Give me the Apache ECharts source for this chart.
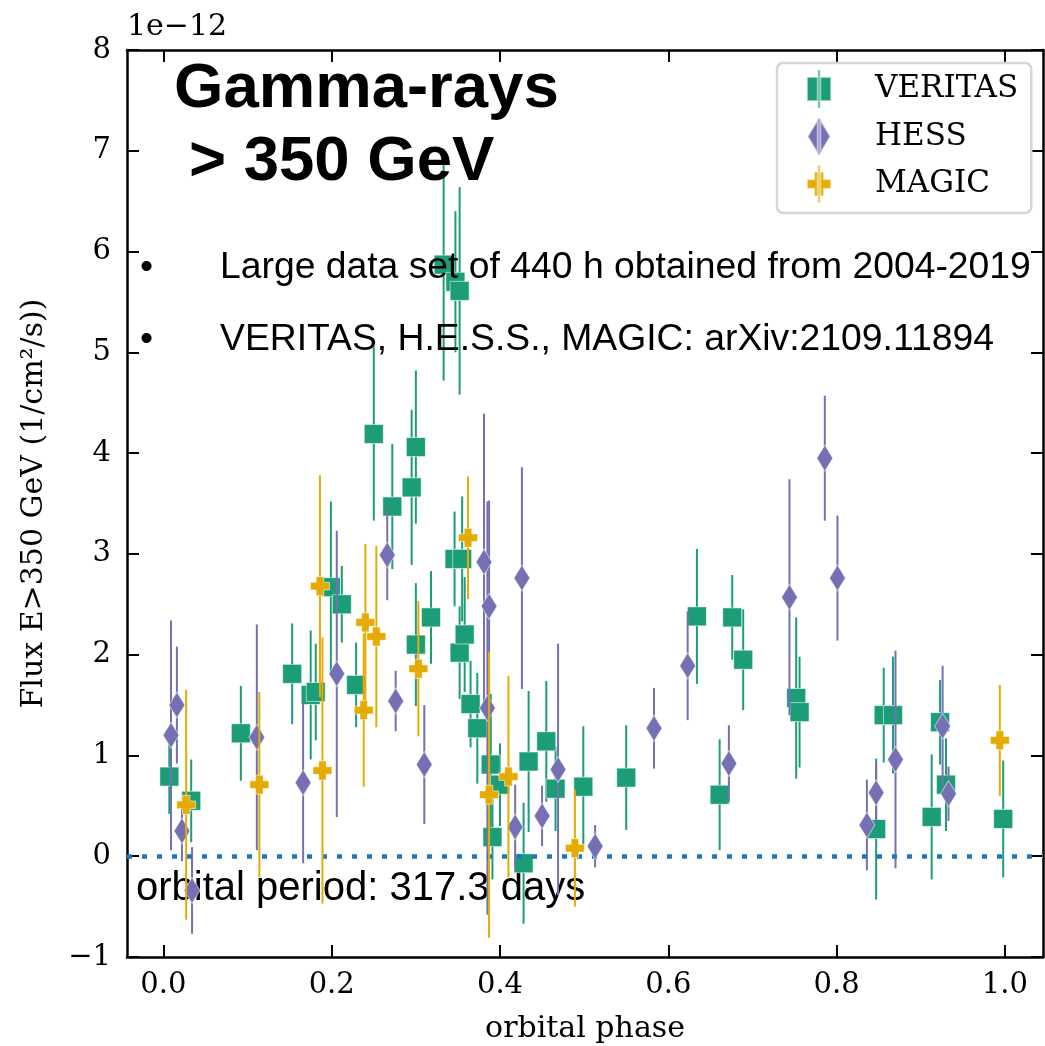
<!DOCTYPE html>
<html>
<head>
<meta charset="utf-8">
<script src="https://cdn.jsdelivr.net/npm/echarts@6/dist/echarts.min.js"></script>
<style>
  html, body { margin: 0; padding: 0; background: #fff; overflow: hidden; }
  #chart { display: block; width: 1045px; height: 1046px; }
</style>
</head>
<body>
<div id="chart"></div>
<script>
// Flux above 350 GeV versus orbital phase, in units of 1e-12 1/cm^2/s.
// Each instrument: phase, flux and symmetric 1-sigma error.
const veritasPhase = [0.007, 0.033, 0.092, 0.153, 0.175, 0.181, 0.199, 0.212, 0.229, 0.250,
  0.272, 0.295, 0.300, 0.300, 0.318, 0.333, 0.346, 0.347, 0.352, 0.352,
  0.355, 0.358, 0.365, 0.373, 0.389, 0.391, 0.400, 0.428, 0.434, 0.455,
  0.466, 0.499, 0.550, 0.634, 0.661, 0.676, 0.689, 0.752, 0.756, 0.847,
  0.856, 0.867, 0.913, 0.923, 0.930, 0.998];
const veritasFlux = [0.79, 0.55, 1.22, 1.81, 1.60, 1.63, 2.67, 2.50, 1.70, 4.19,
  3.47, 3.66, 4.06, 2.10, 2.37, 5.87, 2.95, 5.70, 5.61, 2.02,
  2.95, 2.20, 1.51, 1.27, 0.91, 0.19, 0.71, -0.07, 0.94, 1.14,
  0.67, 0.69, 0.78, 2.38, 0.61, 2.37, 1.95, 1.57, 1.43, 0.27,
  1.40, 1.40, 0.39, 1.33, 0.71, 0.37];
const veritasErr = [0.37, 0.41, 0.47, 0.50, 0.64, 0.48, 0.85, 0.38, 0.42, 0.86,
  0.62, 0.77, 0.76, 0.61, 0.46, 1.15, 0.47, 0.70, 1.03, 0.46,
  0.62, 0.57, 0.43, 0.55, 0.70, 0.42, 0.41, 0.60, 0.70, 0.60,
  0.42, 0.60, 0.52, 0.67, 0.55, 0.42, 0.50, 0.80, 0.55, 0.70,
  0.47, 0.58, 0.62, 0.42, 0.46, 0.58];

const hessPhase = [0.009, 0.016, 0.022, 0.034, 0.111, 0.166, 0.206, 0.266, 0.276, 0.310,
  0.381, 0.387, 0.385, 0.418, 0.426, 0.450, 0.469, 0.513, 0.583, 0.623,
  0.672, 0.744, 0.786, 0.801, 0.836, 0.847, 0.870, 0.926, 0.933];
const hessFlux = [1.20, 1.50, 0.25, -0.34, 1.18, 0.73, 1.81, 2.99, 1.54, 0.91,
  2.92, 2.48, 1.47, 0.29, 2.76, 0.40, 0.86, 0.10, 1.27, 1.89,
  0.92, 2.57, 3.95, 2.76, 0.31, 0.63, 0.96, 1.29, 0.62];
const hessErr = [1.14, 0.58, 0.30, 0.43, 1.12, 0.80, 1.42, 0.45, 0.30, 0.59,
  1.47, 1.05, 2.05, 0.42, 1.10, 0.30, 1.25, 0.21, 0.40, 0.54,
  0.38, 1.17, 0.62, 0.62, 0.45, 0.30, 1.08, 0.60, 0.27];

const magicPhase = [0.027, 0.114, 0.186, 0.189, 0.238, 0.240, 0.253, 0.303, 0.362, 0.387, 0.410, 0.489, 0.994];
const magicFlux = [0.51, 0.71, 2.68, 0.85, 1.45, 2.32, 2.18, 1.86, 3.16, 0.61, 0.79, 0.08, 1.15];
const magicErr = [1.14, 0.92, 1.10, 1.32, 0.76, 0.78, 0.90, 0.67, 0.61, 1.42, 1.00, 0.58, 0.55];

const phaseTicks = [0.0, 0.2, 0.4, 0.6, 0.8, 1.0];
const fluxTicks = [-1, 0, 1, 2, 3, 4, 5, 6, 7, 8];

const COLORS = { VERITAS: '#1b9e77', HESS: '#7570b3', MAGIC: '#e6ab02' };
const SERIF = 'DejaVu Serif';
const SANS = 'Liberation Sans';

// marker shapes
const plusPath = 'path://M-1,-2.5 L1,-2.5 L1,-1 L2.5,-1 L2.5,1 L1,1 L1,2.5 L-1,2.5 L-1,1 L-2.5,1 L-2.5,-1 L-1,-1 Z';
// legend icons: marker with a vertical error stroke
const legendSquare = 'path://M14,0 L16,0 L16,30 L14,30 Z M5.5,5.5 L24.5,5.5 L24.5,24.5 L5.5,24.5 Z';
const legendDiamond = 'path://M14,1 L16,1 L16,29 L14,29 Z M15,0 L24,15 L15,30 L6,15 Z';
const legendPlus = 'path://M14,0 L16,0 L16,30 L14,30 Z M11.2,5.5 L18.8,5.5 L18.8,11.2 L24.5,11.2 L24.5,18.8 L18.8,18.8 L18.8,24.5 L11.2,24.5 L11.2,18.8 L5.5,18.8 L5.5,11.2 L11.2,11.2 Z';

function zip3(a, b, c) { return a.map((v, i) => [v, b[i], c[i]]); }

function errorSeries(name, phase, flux, err, z) {
  return {
    type: 'custom',
    name: name + ' err',
    xAxisIndex: 0, yAxisIndex: 0,
    z: z, silent: true,
    dimensions: ['phase', 'flux', 'err'],
    encode: { x: 0, y: 1 },
    data: zip3(phase, flux, err),
    renderItem: function (params, api) {
      const x = api.value(0), y = api.value(1), e = api.value(2);
      const lo = api.coord([x, y - e]);
      const hi = api.coord([x, y + e]);
      return {
        type: 'line',
        shape: { x1: lo[0], y1: lo[1], x2: hi[0], y2: hi[1] },
        style: { stroke: COLORS[name], lineWidth: 2 }
      };
    }
  };
}

function markerSeries(name, phase, flux, symbol, size, z) {
  return {
    type: 'scatter',
    name: name,
    xAxisIndex: 0, yAxisIndex: 0,
    z: z, silent: true,
    symbol: symbol,
    symbolSize: size,
    itemStyle: { color: COLORS[name], opacity: 1, borderColor: 'rgba(255,255,255,0.55)', borderWidth: 1 },
    data: phase.map((p, i) => [p, flux[i]])
  };
}

const fmtMinus = v => (v < 0 ? '\u2212' + Math.abs(v) : String(v));

const chart = echarts.init(document.getElementById('chart'), null, { renderer: 'canvas', width: 1045, height: 1046 });

const option = {
  animation: false,
  backgroundColor: '#ffffff',
  grid: { left: 127, top: 50, width: 916, height: 907, containLabel: false, outerBoundsMode: 'none' },
  xAxis: [
    {
      type: 'value', position: 'bottom',
      min: -0.0433, max: 1.0453,
      name: 'orbital phase', nameLocation: 'middle', nameGap: 57,
      nameTextStyle: { fontFamily: SERIF, fontSize: 30, color: '#000' },
      axisLine: { show: true, onZero: false, lineStyle: { color: '#000', width: 2.5 } },
      axisTick: { show: true, inside: true, length: 12, customValues: phaseTicks, lineStyle: { color: '#000', width: 2 } },
      axisLabel: { show: true, customValues: phaseTicks, margin: 14, formatter: v => v.toFixed(1),
        fontFamily: SERIF, fontSize: 29, color: '#000' },
      splitLine: { show: false }
    },
    {
      type: 'value', position: 'top',
      min: -0.0433, max: 1.0453,
      axisLine: { show: true, onZero: false, lineStyle: { color: '#000', width: 2.5 } },
      axisTick: { show: true, inside: true, length: 12, customValues: phaseTicks, lineStyle: { color: '#000', width: 2 } },
      axisLabel: { show: false },
      splitLine: { show: false }
    }
  ],
  yAxis: [
    {
      type: 'value', position: 'left',
      min: -1, max: 8, interval: 1,
      name: 'Flux E>350 GeV (1/cm\u00b2/s))', nameLocation: 'middle', nameGap: 78, nameRotate: 90,
      nameTextStyle: { fontFamily: SERIF, fontSize: 30, color: '#000' },
      axisLine: { show: true, onZero: false, lineStyle: { color: '#000', width: 2.5 } },
      axisTick: { show: true, inside: true, length: 12, lineStyle: { color: '#000', width: 2 } },
      axisLabel: { show: true, margin: 16, formatter: fmtMinus, fontFamily: SERIF, fontSize: 29, color: '#000' },
      splitLine: { show: false }
    },
    {
      type: 'value', position: 'right',
      min: -1, max: 8, interval: 1,
      axisLine: { show: true, onZero: false, lineStyle: { color: '#000', width: 2.5 } },
      axisTick: { show: true, inside: true, length: 12, lineStyle: { color: '#000', width: 2 } },
      axisLabel: { show: false },
      splitLine: { show: false }
    }
  ],
  legend: {
    orient: 'vertical',
    left: 777, top: 63,
    padding: [6, 13, 9, 29],
    itemWidth: 38, itemHeight: 38, itemGap: 7.5,
    backgroundColor: 'rgba(255,255,255,0.85)',
    borderColor: '#d6d6d6', borderWidth: 2.5, borderRadius: 6,
    selectedMode: false,
    textStyle: { fontFamily: SERIF, fontSize: 31, color: '#000', padding: [0, 0, 0, 32] },
    data: [
      { name: 'VERITAS', icon: legendSquare },
      { name: 'HESS', icon: legendDiamond },
      { name: 'MAGIC', icon: legendPlus }
    ]
  },
  graphic: [
    { type: 'text', left: 127, top: 12, z: 50,
      style: { text: '1e\u221212', font: '30px "' + SERIF + '"', fill: '#000' } },
    { type: 'text', left: 174, top: 57, z: 50,
      style: { text: 'Gamma-rays', font: 'bold 63.5px "' + SANS + '"', fill: '#000' } },
    { type: 'text', left: 189, top: 130, z: 50,
      style: { text: '> 350 GeV', font: 'bold 63.5px "' + SANS + '"', fill: '#000' } },
    { type: 'text', left: 140, top: 249, z: 50,
      style: { text: '\u2022', font: '37.3px "' + SANS + '"', fill: '#000' } },
    { type: 'text', left: 220, top: 249, z: 50,
      style: { text: 'Large data set of 440 h obtained from 2004-2019', font: '37.3px "' + SANS + '"', fill: '#000' } },
    { type: 'text', left: 140, top: 321, z: 50,
      style: { text: '\u2022', font: '37.3px "' + SANS + '"', fill: '#000' } },
    { type: 'text', left: 220, top: 321, z: 50,
      style: { text: 'VERITAS, H.E.S.S., MAGIC: arXiv:2109.11894', font: '37.3px "' + SANS + '"', fill: '#000' } },
    { type: 'text', left: 136, top: 869, z: 1,
      style: { text: 'orbital period: 317.3 days', font: '40px "' + SANS + '"', fill: '#000' } }
  ],
  series: [
    {
      type: 'line', name: 'zero', xAxisIndex: 0, yAxisIndex: 0, z: 1, silent: true,
      data: [], symbol: 'none',
      markLine: {
        silent: true, symbol: 'none', animation: false, label: { show: false },
        lineStyle: { color: '#1f77b4', width: 4.5, type: [5, 10] },
        data: [{ yAxis: 0 }]
      }
    },
    errorSeries('VERITAS', veritasPhase, veritasFlux, veritasErr, 2),
    markerSeries('VERITAS', veritasPhase, veritasFlux, 'rect', 19, 3),
    errorSeries('HESS', hessPhase, hessFlux, hessErr, 4),
    markerSeries('HESS', hessPhase, hessFlux, 'diamond', [16, 26], 5),
    errorSeries('MAGIC', magicPhase, magicFlux, magicErr, 6),
    markerSeries('MAGIC', magicPhase, magicFlux, plusPath, 19, 7)
  ]
};

chart.setOption(option);
</script>
</body>
</html>
